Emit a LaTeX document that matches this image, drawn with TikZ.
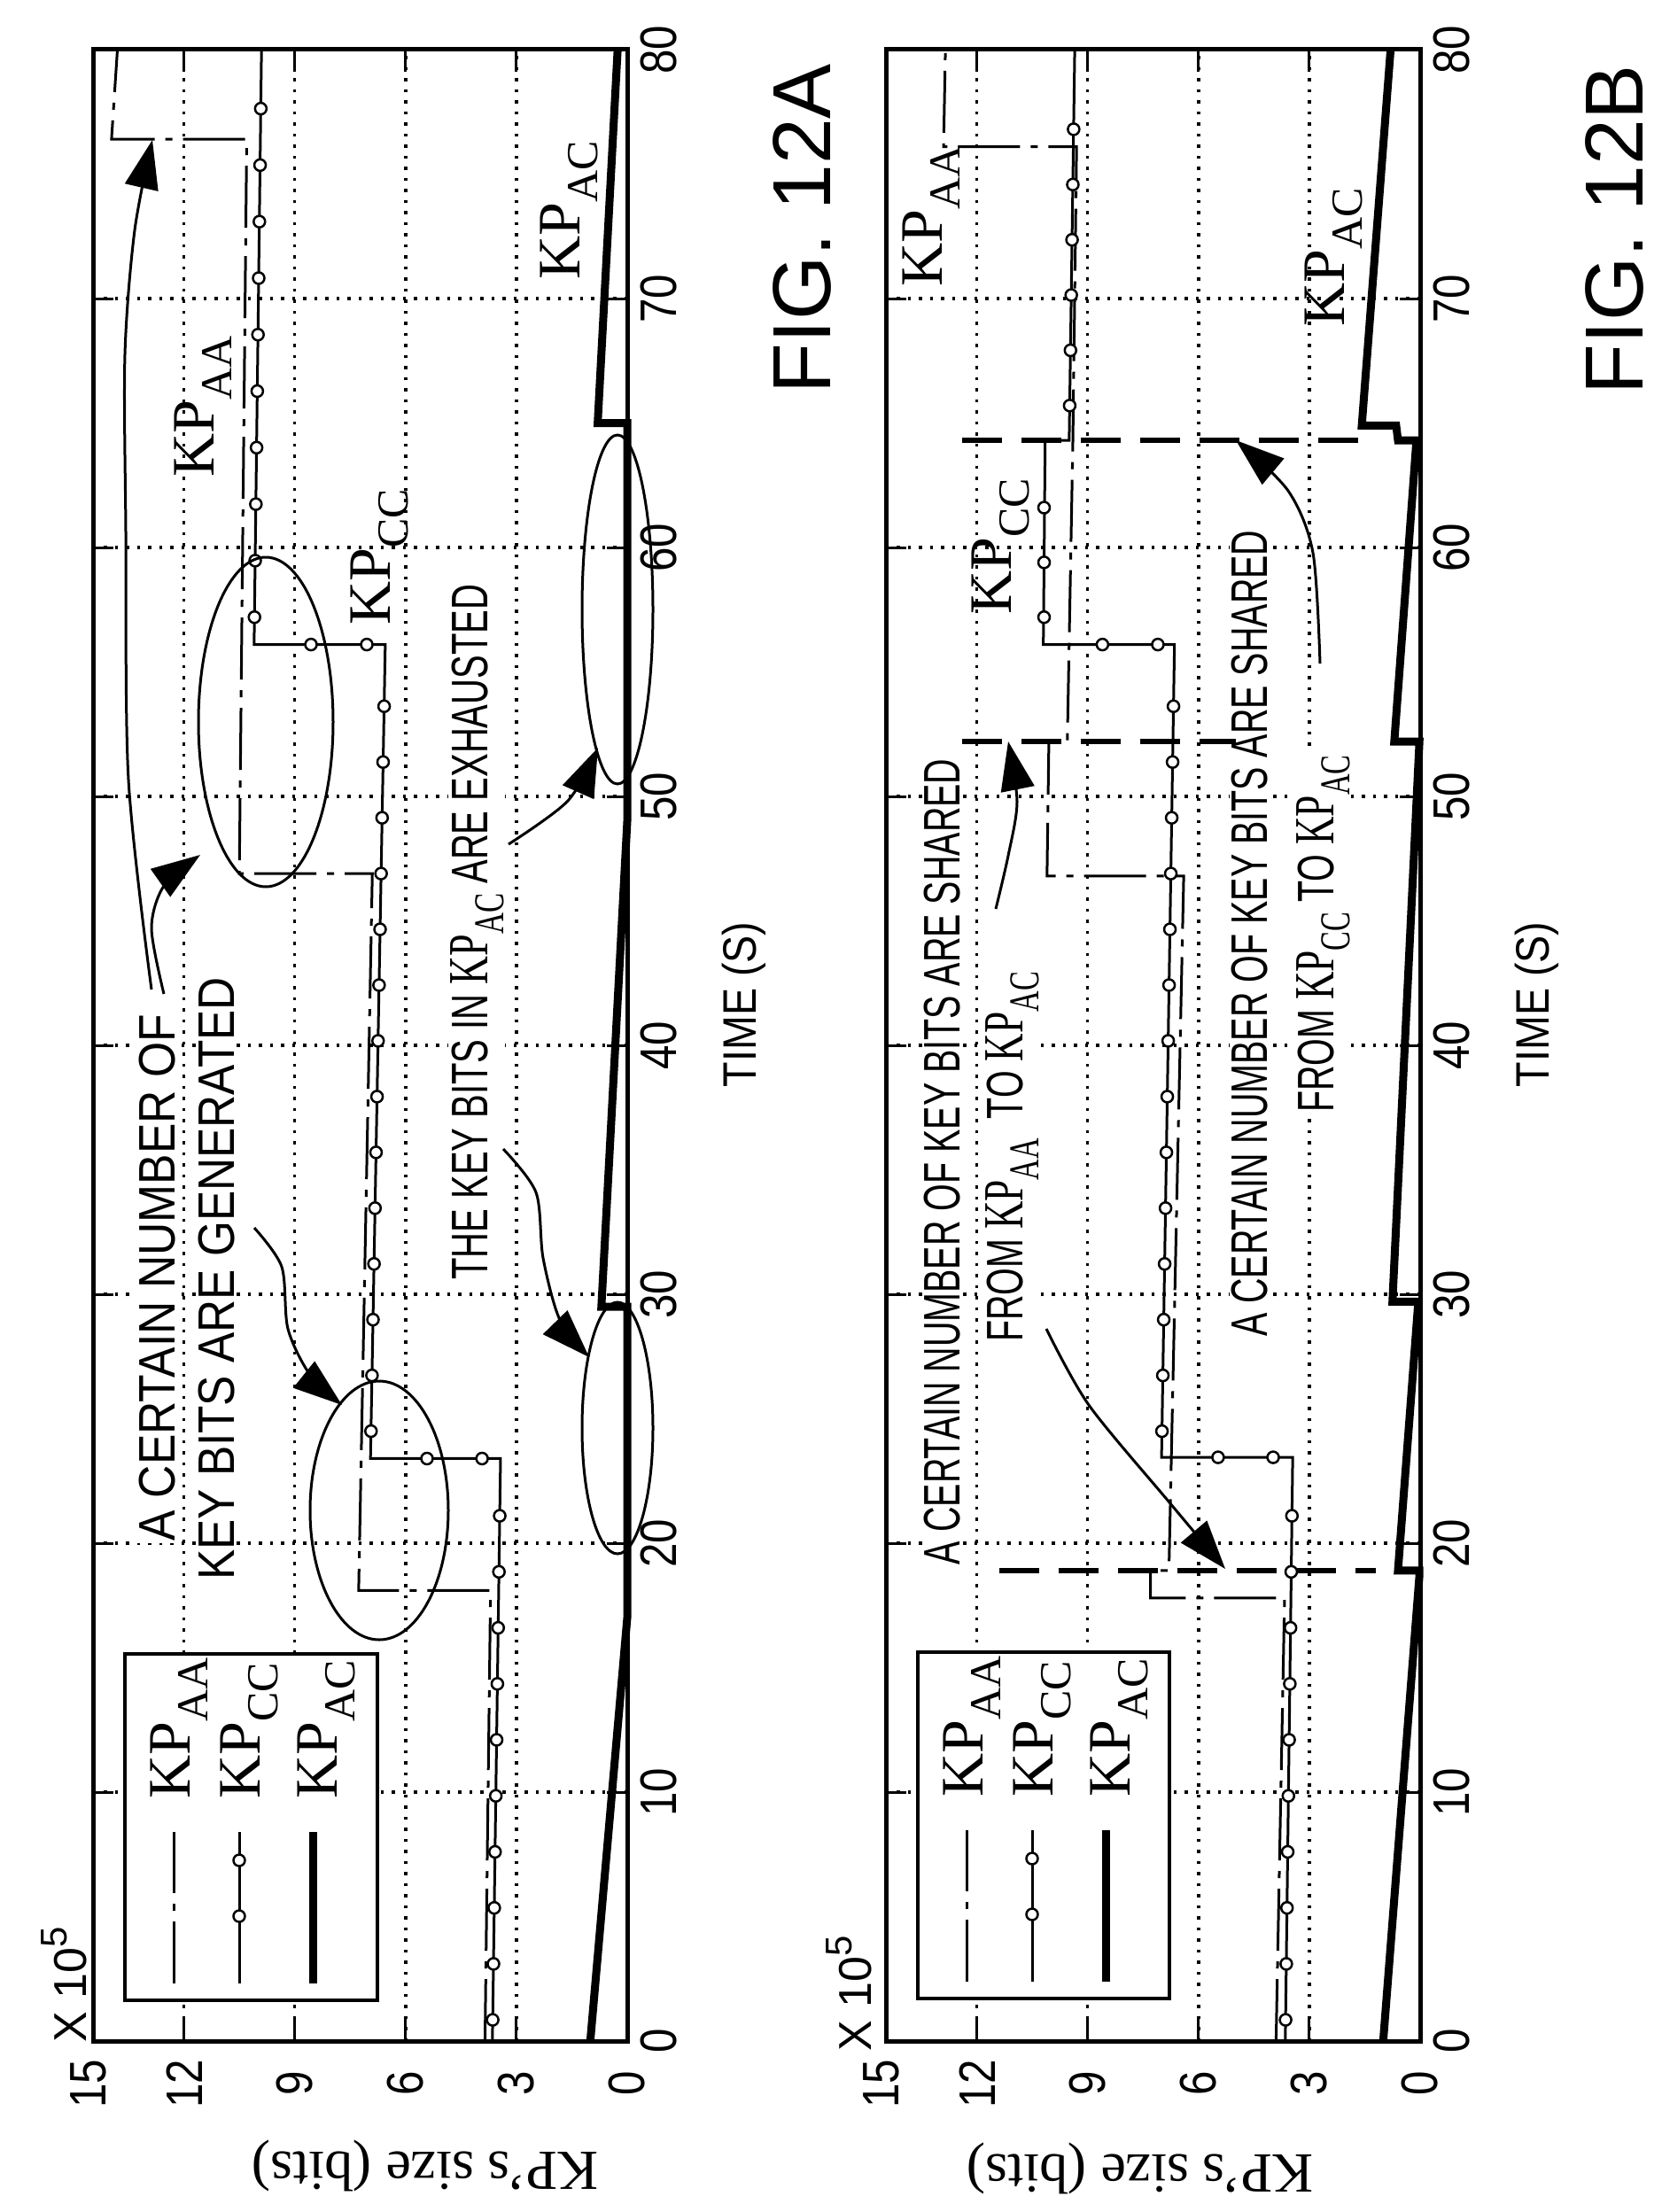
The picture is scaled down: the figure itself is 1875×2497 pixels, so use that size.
\documentclass[tikz,border=0pt]{standalone}
\usepackage{fontspec}
\setmainfont{Liberation Serif}
\setsansfont{Liberation Sans}
\usepackage{graphicx}
\usetikzlibrary{arrows.meta}
\newcommand\KP[1]{{\rmfamily\fontsize{68pt}{68pt}\selectfont KP\raisebox{-20pt}{\fontsize{50pt}{50pt}\selectfont #1}}}
\newcommand\KPs[1]{{\rmfamily\fontsize{64pt}{64pt}\selectfont KP\raisebox{-18pt}{\fontsize{48pt}{48pt}\selectfont #1}}}
\tikzset{
 frame/.style={line width=5pt},
 gridl/.style={line width=3.5pt, dash pattern=on 3.5pt off 9pt},
 tk/.style={line width=3pt},
 aa/.style={line width=3pt, dash pattern=on 70pt off 12pt on 8pt off 12pt},
 cc/.style={line width=3pt},
 ac/.style={line width=9pt, line join=miter},
 mk/.style={circle, draw, fill=white, line width=2.5pt, minimum size=13pt, inner sep=0pt},
 share/.style={line width=6pt, dash pattern=on 45pt off 22pt},
 ell/.style={line width=3pt},
 arr/.style={line width=3pt, -{Triangle[length=55pt,width=38pt]}},
 ann/.style={rotate=90, anchor=base west, inner sep=2pt, fill=white, font=\sffamily\fontsize{58pt}{58pt}\selectfont},
 ticklab/.style={rotate=90, font=\sffamily\fontsize{58pt}{58pt}\selectfont},
 kpl/.style={rotate=90, anchor=base west, inner sep=0pt},
 legbox/.style={line width=4pt, fill=white},
}
\newcommand\kpgrid{
 \foreach \v in {3,6,9,12} \draw[gridl] (0,\v) -- (80,\v);
 \foreach \t in {10,20,...,70} \draw[gridl] (\t,0) -- (\t,14.46);
}
\newcommand\kpframe{
 \foreach \v in {3,6,9,12} {\draw[tk] (0,\v) -- (0.9,\v); \draw[tk] (80,\v) -- (79.1,\v);}
 \foreach \t in {10,20,...,70} {\draw[tk] (\t,0) -- (\t,0.55); \draw[tk] (\t,14.46) -- (\t,13.9);}
 \draw[frame] (0,0) rectangle (80,14.46);
}
\newcommand\tl[1]{\scalebox{0.85}[1]{#1}}
\begin{document}
\begin{tikzpicture}[x=1pt,y=-1pt]
\useasboundingbox[fill=white] (0,0) rectangle (1875,2497);

% ================= PANEL A =================
\begin{scope}[shift={(708,2304)}, x={(0pt,28.1pt)}, y={(-41.7pt,0pt)}]
\kpgrid
\end{scope}

\node[ann] (a1) at (197,1742) {\scalebox{0.89}[1]{A CERTAIN NUMBER OF}};
\node[ann] (a2) at (264,1786) {\scalebox{0.885}[1]{KEY BITS ARE GENERATED}};
\node[ann] (a3) at (550,1447) {\scalebox{0.69}[1]{THE KEY BITS IN \KPs{AC} ARE EXHAUSTED}};

\begin{scope}[shift={(708,2304)}, x={(0pt,28.1pt)}, y={(-41.7pt,0pt)}]
\draw[ac] (0,1.0) -- (17,0) -- (29.5,0) -- (29.5,0.7) -- (49,0) -- (65,0) -- (65,0.8) -- (80,0.26);
\draw[aa] (0,3.85) -- (18.1,3.7) -- (18.1,7.27) -- (46.9,6.9) -- (46.9,10.5) -- (76.4,10.3) -- (76.4,13.96) -- (80,13.8);
\draw[cc] (0,3.65) -- (23.4,3.43) -- (23.4,6.95) -- (56.1,6.55) -- (56.1,10.1) -- (80,9.9);
\foreach \k in {0,...,9}{\pgfmathsetmacro\mt{0.85+2.25*\k}\pgfmathsetmacro\mv{3.65-0.0094*\mt}\node[mk] at (\mt,\mv) {};}
\node[mk] at (23.4,5.42) {}; \node[mk] at (23.4,3.93) {};
\foreach \k in {0,...,13}{\pgfmathsetmacro\mt{24.5+2.24*\k}\pgfmathsetmacro\mv{6.95-0.0122*(\mt-23.4)}\node[mk] at (\mt,\mv) {};}
\node[mk] at (56.1,8.56) {}; \node[mk] at (56.1,7.05) {};
\foreach \k in {0,...,9}{\pgfmathsetmacro\mt{57.2+2.27*\k}\pgfmathsetmacro\mv{10.1-0.0084*(\mt-56.1)}\node[mk] at (\mt,\mv) {};}
\kpframe
\end{scope}

\draw[ell] (428,1705) ellipse [x radius=78, y radius=146];
\draw[ell] (300,815) ellipse [x radius=76, y radius=186];
\draw[ell] (697,1612) ellipse [x radius=40, y radius=142];
\draw[ell] (697,688) ellipse [x radius=40, y radius=197];

\draw[arr] plot[smooth] coordinates {(171,1117) (145,880) (142,600) (141,400) (152,260) (172,158)};
\draw[arr] plot[smooth] coordinates {(185,1122) (171,1048) (185,1000) (226,965)};
\draw[arr] plot[smooth] coordinates {(287,1386) (318,1430) (325,1500) (350,1552) (386,1586)};
\draw[arr] plot[smooth] coordinates {(568,1297) (605,1346) (613,1420) (632,1490) (665,1532)};
\draw[arr] plot[smooth] coordinates {(574,953) (641,904) (675,844)};

\node[kpl] (lA1) at (241,539) {\KP{AA}};
\node[kpl] (lA2) at (440,706) {\KP{CC}};
\node[kpl] (lA3) at (654,316) {\KP{AC}};

% legend A
\draw[legbox] (141,1867) rectangle (426,2258);
\draw[aa] (196,2239) -- (196,2068);
\draw[cc] (270,2239) -- (270,2068);
\node[mk] at (270,2100) {}; \node[mk] at (270,2163) {};
\draw[ac] (353,2239) -- (353,2068);
\node[kpl] at (214,2031) {\KP{AA}};
\node[kpl] at (293,2031) {\KP{CC}};
\node[kpl] at (380,2031) {\KP{AC}};

% axes labels A
\foreach \v/\x in {0/708,3/583,6/458,9/333,12/208,15/100} \node[ticklab] at (\x,2352) {\tl{\v}};
\foreach \t in {0,10,...,80} {\pgfmathsetmacro\yy{2304-28.1*\t}\node[ticklab] at (744,\yy) {\tl{\t}};}
\node[rotate=90] at (72,2240) {\sffamily\fontsize{52pt}{52pt}\selectfont X 10\raisebox{22pt}{\fontsize{42pt}{42pt}\selectfont 5}};
\node[rotate=180] at (480,2445) {\rmfamily\fontsize{64pt}{64pt}\selectfont KP's size (bits)};
\node[rotate=90] at (840,1134) {\sffamily\fontsize{53pt}{53pt}\selectfont\scalebox{0.88}[1]{TIME (S)}};
\node[rotate=90] at (905,258) {\sffamily\fontsize{93pt}{93pt}\selectfont FIG. 12A};

% ================= PANEL B =================
\begin{scope}[shift={(1603,2304)}, x={(0pt,28.1pt)}, y={(-41.7pt,0pt)}]
\kpgrid
\end{scope}

\node[ann] (b1) at (1083,1769) {\scalebox{0.68}[1]{A CERTAIN NUMBER OF KEY BITS ARE SHARED}};
\node[ann] (b2) at (1154,1517) {\scalebox{0.68}[1]{FROM \KPs{AA}\ \ TO \KPs{AC}}};
\node[ann] (b3) at (1430,1511) {\scalebox{0.68}[1]{A CERTAIN NUMBER OF KEY BITS ARE SHARED}};
\node[ann] (b4) at (1505,1258) {\scalebox{0.68}[1]{FROM \KPs{CC} TO \KPs{AC}}};

\begin{scope}[shift={(1603,2304)}, x={(0pt,28.1pt)}, y={(-41.7pt,0pt)}]
\draw[ac] (0,1.0) -- (18.7,0.02) -- (18.9,0.02) -- (18.9,0.6) -- (29.7,0.05) -- (29.7,0.75) -- (52.2,0.02) -- (52.2,0.7) -- (64.3,0.1) -- (64.3,0.6) -- (64.9,0.65) -- (64.9,1.58) -- (80,0.8);
\draw[aa] (0,3.9) -- (17.8,3.67) -- (17.8,7.3) -- (18.9,7.3) -- (18.9,6.8) -- (46.8,6.4) -- (46.8,10.1) -- (52.2,10.05) -- (52.2,9.55) -- (64.3,9.4) -- (76.1,9.3) -- (76.1,12.9) -- (80,12.85);
\draw[cc] (0,3.65) -- (23.45,3.45) -- (23.45,7.0) -- (56.1,6.65) -- (56.1,10.2) -- (64.3,10.15) -- (64.3,9.5) -- (80,9.35);
\foreach \k in {0,...,9}{\pgfmathsetmacro\mt{0.85+2.25*\k}\pgfmathsetmacro\mv{3.65-0.0085*\mt}\node[mk] at (\mt,\mv) {};}
\node[mk] at (23.45,5.47) {}; \node[mk] at (23.45,3.98) {};
\foreach \k in {0,...,13}{\pgfmathsetmacro\mt{24.5+2.24*\k}\pgfmathsetmacro\mv{7.0-0.0107*(\mt-23.45)}\node[mk] at (\mt,\mv) {};}
\node[mk] at (56.1,8.6) {}; \node[mk] at (56.1,7.1) {};
\foreach \mt in {57.2,59.4,61.6} \node[mk] at (\mt,10.18) {};
\foreach \k in {0,...,5}{\pgfmathsetmacro\mt{65.7+2.22*\k}\pgfmathsetmacro\mv{9.5-0.0096*(\mt-64.3)}\node[mk] at (\mt,\mv) {};}
\draw[share] (18.9,11.4) -- (18.9,1.2);
\draw[share] (52.2,12.4) -- (52.2,5.0);
\draw[share] (64.3,12.4) -- (64.3,1.5);
\kpframe
\end{scope}

\draw[arr] plot[smooth] coordinates {(1181,1500) (1229,1586) (1320,1696) (1383,1771)};
\draw[arr] plot[smooth] coordinates {(1124,1026) (1138,966) (1148,905) (1138,837)};
\draw[arr] plot[smooth] coordinates {(1490,749) (1482,624) (1454,554) (1395,497)};

\node[kpl] (lB1) at (1063,324) {\KP{AA}};
\node[kpl] (lB2) at (1141,694) {\KP{CC}};
\node[kpl] (lB3) at (1517,369) {\KP{AC}};

% legend B
\draw[legbox] (1036,1865) rectangle (1320,2256);
\draw[aa] (1091,2237) -- (1091,2066);
\draw[cc] (1165,2237) -- (1165,2066);
\node[mk] at (1165,2098) {}; \node[mk] at (1165,2161) {};
\draw[ac] (1248,2237) -- (1248,2066);
\node[kpl] at (1109,2029) {\KP{AA}};
\node[kpl] at (1188,2029) {\KP{CC}};
\node[kpl] at (1275,2029) {\KP{AC}};

\foreach \v/\x in {0/1603,3/1478,6/1353,9/1228,12/1103,15/995} \node[ticklab] at (\x,2352) {\tl{\v}};
\foreach \t in {0,10,...,80} {\pgfmathsetmacro\yy{2304-28.1*\t}\node[ticklab] at (1639,\yy) {\tl{\t}};}
\node[rotate=90] at (958,2250) {\sffamily\fontsize{52pt}{52pt}\selectfont X 10\raisebox{22pt}{\fontsize{42pt}{42pt}\selectfont 5}};
\node[rotate=180] at (1287,2448) {\rmfamily\fontsize{64pt}{64pt}\selectfont KP's size (bits)};
\node[rotate=90] at (1735,1134) {\sffamily\fontsize{53pt}{53pt}\selectfont\scalebox{0.88}[1]{TIME (S)}};
\node[rotate=90] at (1822,259) {\sffamily\fontsize{93pt}{93pt}\selectfont FIG. 12B};
\end{tikzpicture}
\end{document}
